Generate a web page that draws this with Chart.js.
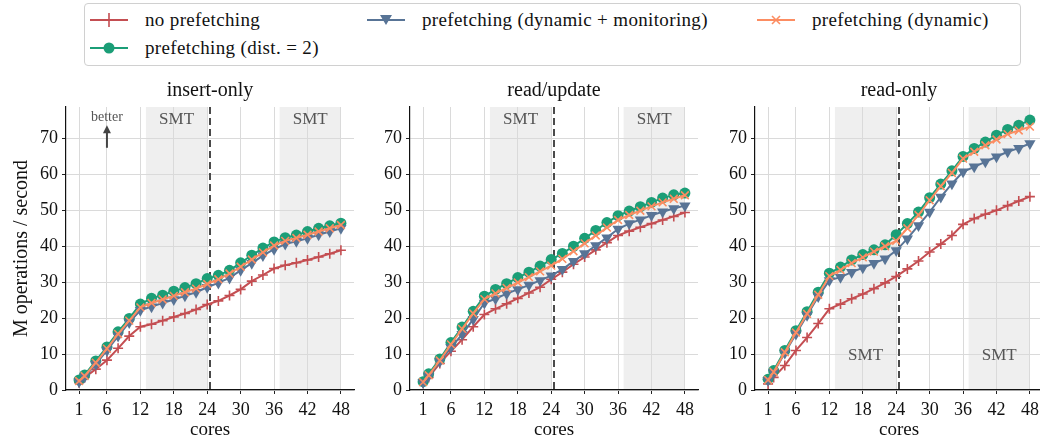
<!DOCTYPE html>
<html>
<head>
<meta charset="utf-8">
<script src="https://cdn.jsdelivr.net/npm/chart.js@4.4.0/dist/chart.umd.min.js"></script>
<style>
    body { margin: 0; width: 1040px; height: 444px; overflow: hidden; background: #fff; position: relative; font-family: 'Liberation Serif', serif; }
    .panel { position: absolute; top: 0; height: 444px; }
    #legend { position: absolute; left: 84px; top: 3px; width: 937px; height: 63px; border: 1px solid #d0d0d0; border-radius: 4px; box-sizing: border-box; }
    .item { position: absolute; display: flex; align-items: center; font-size: 19px; letter-spacing: 0.35px; color: #111; white-space: nowrap; height: 24px; }
    .item svg { margin-right: 17px; }
</style>
</head>
<body>
<div id="legend"></div>
<canvas id="c0" class="panel"></canvas>
<canvas id="c1" class="panel"></canvas>
<canvas id="c2" class="panel"></canvas>
<script>
const cores = [1, 2, 4, 6, 8, 10, 12, 14, 16, 18, 20, 22, 24, 26, 28, 30, 32, 34, 36, 38, 40, 42, 44, 46, 48];
const xTicks = [1, 6, 12, 18, 24, 30, 36, 42, 48];
const yTicks = [0, 10, 20, 30, 40, 50, 60, 70];
const panelTitles = ['insert-only', 'read/update', 'read-only'];
const smtBands = [[13, 24], [37, 48]];
const socketLine = 24.5;

const seriesNames = ['no prefetching', 'prefetching (dist. = 2)', 'prefetching (dynamic + monitoring)', 'prefetching (dynamic)'];
const seriesColors = ['#c44e52', '#1b9e77', '#587496', '#fc8d62'];

// insert-only
const insertNoPf   = [2, 3.5, 5.8, 8.3, 11.6, 15, 17.6, 18.3, 19.3, 20.3, 21.3, 22.4, 23.8, 24.8, 26.3, 28, 30.3, 32, 33.8, 34.7, 35.4, 36.2, 37, 37.9, 38.9];
const insertDist2  = [2.8, 4.2, 8.1, 12, 16.2, 19.9, 23.9, 25.5, 26.4, 27.5, 28.5, 29.6, 31, 31.9, 33.3, 35.4, 37.5, 39.5, 41.2, 42.4, 43.1, 44.1, 45, 45.7, 46.4];
const insertDynMon = [2.3, 3.7, 7.2, 11, 15, 18.8, 22.2, 23.2, 24.2, 25.2, 26.2, 27.2, 28.6, 29.8, 31.2, 33.3, 35.3, 37.4, 39.2, 40.6, 41.4, 42.2, 43.2, 44.1, 45];
const insertDyn    = [2.5, 3.9, 7.6, 11.5, 15.6, 19.3, 23, 24.2, 25.2, 26.2, 27.2, 28.2, 29.5, 30.8, 32.4, 34.3, 36.3, 38.3, 40.2, 41.5, 42.3, 43.2, 44.1, 45, 45.9];

// read/update
const rwNoPf   = [1.9, 3.5, 7.4, 10.8, 14, 17.6, 21, 22.6, 24, 25.5, 27, 28.6, 30.8, 32.8, 35, 37, 39, 41, 43, 44.2, 45.3, 46.3, 47.3, 48.3, 49.4];
const rwDist2  = [2.3, 4.5, 8.6, 13.2, 17.5, 21.9, 26.1, 28, 29.6, 31.3, 32.8, 34.5, 36.3, 38, 40, 42.2, 44.4, 46.6, 48.5, 49.8, 51, 52.2, 53.4, 54.3, 54.8];
const rwDynMon = [2.1, 3.9, 7.9, 11.8, 15.5, 19.7, 24.2, 25.4, 26.8, 28, 29.2, 30.5, 31.8, 33.6, 35.8, 38, 40.2, 42.4, 44.8, 46.3, 47.4, 48.6, 49.6, 50.5, 51.3];
const rwDyn    = [2.2, 4.1, 8.2, 12.7, 17, 21.3, 25.3, 26.9, 28.4, 29.9, 31.4, 33, 34.6, 36.5, 38.6, 40.8, 43, 45.2, 47.3, 48.7, 49.9, 51.1, 52.2, 53.2, 54.2];

// read-only
const roNoPf   = [1.7, 3.5, 6.8, 11, 14.6, 18.5, 22.6, 23.9, 25.4, 26.7, 28.2, 29.8, 31.6, 33.7, 35.9, 38.4, 40.6, 43, 46.1, 47.7, 48.9, 50, 51.3, 52.6, 53.8];
const roDist2  = [3, 5.4, 11, 16.5, 21.8, 27.2, 32.5, 34.2, 36.2, 37.7, 39, 40.4, 43.2, 46.3, 49.5, 53.5, 57.3, 61, 65, 67.2, 69, 70.9, 72.5, 73.7, 75.1];
const roDynMon = [2.7, 4.9, 10.3, 15.6, 20.8, 26, 30.5, 31.4, 32.8, 34, 35.3, 36.5, 38.8, 42.1, 45.8, 49.5, 53.7, 57.4, 60.7, 62.1, 63.5, 64.9, 66.3, 67.3, 68.6];
const roDyn    = [2.8, 5, 10.5, 16, 21.2, 26.5, 31.7, 33.4, 35.3, 36.9, 38.5, 40, 41.5, 45, 48.7, 52.8, 56.7, 60.4, 64.4, 66.3, 68.1, 69.7, 71.2, 72.2, 73.3];

const panelData = [
    [insertNoPf, insertDist2, insertDynMon, insertDyn],
    [rwNoPf, rwDist2, rwDynMon, rwDyn],
    [roNoPf, roDist2, roDynMon, roDyn]
];

const serif = "'Liberation Serif', serif";
const areaLefts = [66, 410, 755];
const areaWidth = 288;
const padRight = 14;

// marker style per series: red '+', green circle, blue down triangle, orange 'x'
const markerStyles = [
    { pointStyle: 'cross', pointRadius: 5, pointBorderWidth: 1.6, pointRotation: 0 },
    { pointStyle: 'circle', pointRadius: 5.5, pointBorderWidth: 0, pointRotation: 0 },
    { pointStyle: 'triangle', pointRadius: 6.5, pointBorderWidth: 0, pointRotation: 180 },
    { pointStyle: 'crossRot', pointRadius: 5.5, pointBorderWidth: 1.6, pointRotation: 0 }
];
const drawOrder = [3, 2, 1, 0];

const decor = {
    id: 'decor',
    beforeDraw(chart, args, opts) {
        const { ctx, chartArea: a, scales: { x } } = chart;
        ctx.save();
        ctx.fillStyle = '#efefef';
        smtBands.forEach(function (b) {
            const x0 = x.getPixelForValue(b[0]);
            const x1 = x.getPixelForValue(b[1]);
            ctx.fillRect(x0, a.top, x1 - x0, a.bottom - a.top);
        });
        ctx.restore();
    },
    beforeDatasetsDraw(chart, args, opts) {
        const { ctx, chartArea: a, scales: { x, y } } = chart;
        ctx.save();
        // socket boundary
        ctx.strokeStyle = '#4a4a4a';
        ctx.lineWidth = 2;
        ctx.setLineDash([7, 4]);
        const xs = x.getPixelForValue(socketLine);
        ctx.beginPath();
        ctx.moveTo(xs, a.top);
        ctx.lineTo(xs, a.bottom);
        ctx.stroke();
        ctx.setLineDash([]);

        ctx.fillStyle = '#555';
        ctx.font = '17px ' + serif;
        ctx.textAlign = 'center';
        ctx.textBaseline = 'middle';
        smtBands.forEach(function (b) {
            ctx.fillText('SMT', x.getPixelForValue((b[0] + b[1]) / 2), y.getPixelForValue(opts.smtY));
        });

        if (opts.better) {
            const xb = x.getPixelForValue(6);
            ctx.font = '14px ' + serif;
            ctx.fillText('better', xb, y.getPixelForValue(75.8));
            const yTop = y.getPixelForValue(73.7);
            const yBot = y.getPixelForValue(67.4);
            ctx.strokeStyle = '#444';
            ctx.lineWidth = 2;
            ctx.beginPath();
            ctx.moveTo(xb, yBot);
            ctx.lineTo(xb, yTop + 6);
            ctx.stroke();
            ctx.fillStyle = '#444';
            ctx.beginPath();
            ctx.moveTo(xb, yTop);
            ctx.lineTo(xb - 4, yTop + 8);
            ctx.lineTo(xb + 4, yTop + 8);
            ctx.closePath();
            ctx.fill();
        }
        ctx.restore();
    }
};

panelTitles.forEach(function (title, p) {
    const yw = p === 0 ? 66 : 45;
    const canvas = document.getElementById('c' + p);
    const w = yw + areaWidth + padRight;
    canvas.style.left = (areaLefts[p] - yw) + 'px';
    canvas.style.width = w + 'px';
    canvas.width = w;
    canvas.height = 444;

    const datasets = seriesNames.map(function (name, s) {
        return Object.assign({
            label: name,
            data: cores.map(function (c, i) { return { x: c, y: panelData[p][s][i] }; }),
            borderColor: seriesColors[s],
            backgroundColor: seriesColors[s],
            pointBackgroundColor: seriesColors[s],
            pointBorderColor: seriesColors[s],
            borderWidth: 2,
            tension: 0,
            clip: false,
            order: drawOrder[s]
        }, markerStyles[s]);
    });

    new Chart(canvas, {
        type: 'line',
        data: { datasets: datasets },
        plugins: [decor],
        options: {
            responsive: false,
            animation: false,
            events: [],
            layout: { padding: { top: 79, right: padRight, bottom: 0, left: 0 } },
            plugins: {
                legend: { display: false },
                tooltip: { enabled: false },
                title: {
                    display: true,
                    text: title,
                    fullSize: false,
                    color: '#111',
                    font: { family: serif, size: 20, weight: 'normal' },
                    padding: { top: 0, bottom: 4 }
                },
                decor: { smtY: p === 2 ? 9.6 : 75.3, better: p === 0 }
            },
            scales: {
                x: {
                    type: 'linear',
                    min: -1.35,
                    max: 50.35,
                    afterBuildTicks: function (s) { s.ticks = xTicks.map(function (v) { return { value: v }; }); },
                    afterFit: function (s) { s.height = 54; },
                    grid: { color: '#dadada', lineWidth: 1, tickLength: 4, tickColor: '#222' },
                    border: { color: '#111', width: 1.2 },
                    ticks: { color: '#111', padding: 5, maxRotation: 0, autoSkip: false, font: { family: serif, size: 18 } },
                    title: { display: true, text: 'cores', color: '#111', font: { family: serif, size: 19 }, padding: { top: 0, bottom: 3 } }
                },
                y: {
                    min: 0,
                    max: 78.75,
                    afterBuildTicks: function (s) { s.ticks = yTicks.map(function (v) { return { value: v }; }); },
                    afterFit: function (s) { s.width = yw; },
                    grid: { color: '#dadada', lineWidth: 1, tickLength: 4, tickColor: '#222' },
                    border: { color: '#111', width: 1.2 },
                    ticks: { color: '#111', padding: 4, font: { family: serif, size: 18 } },
                    title: { display: p === 0, text: 'M operations / second', color: '#111', font: { family: serif, size: 20 }, padding: { top: 10, bottom: 0 } }
                }
            }
        }
    });
});

// legend, laid out like the column-major 3-column legend of the original
const legendCols = [5, 282, 672];
const legendRows = [16, 44];
const legendSlots = [[0, 0], [0, 1], [1, 0], [2, 0]];

function markerSvg(s) {
    const c = seriesColors[s];
    let m = '';
    if (s === 0) m = `<path d="M19 3 V17 M14 10 H24" stroke="${c}" stroke-width="1.6"/>`;
    if (s === 1) m = `<circle cx="19" cy="10" r="5.5" fill="${c}"/>`;
    if (s === 2) m = `<path d="M13 5 H25 L19 15 Z" fill="${c}"/>`;
    if (s === 3) m = `<path d="M15 6 L23 14 M23 6 L15 14" stroke="${c}" stroke-width="1.6"/>`;
    return `<svg width="38" height="20"><line x1="0" y1="10" x2="38" y2="10" stroke="${c}" stroke-width="2"/>${m}</svg>`;
}

const legend = document.getElementById('legend');
seriesNames.forEach(function (name, s) {
    const item = document.createElement('div');
    item.className = 'item';
    item.style.left = legendCols[legendSlots[s][0]] + 'px';
    item.style.top = (legendRows[legendSlots[s][1]] - 12) + 'px';
    item.innerHTML = markerSvg(s) + '<span>' + name + '</span>';
    legend.appendChild(item);
});
</script>
</body>
</html>
